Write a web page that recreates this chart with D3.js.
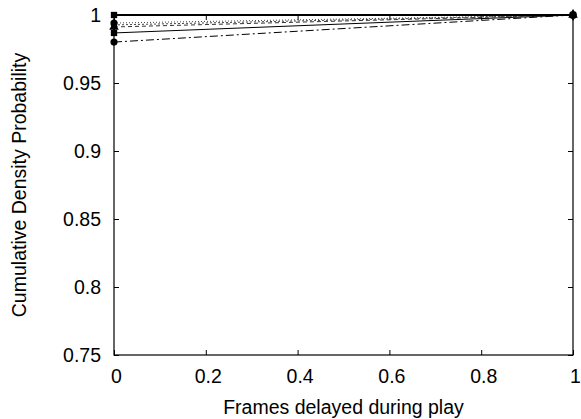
<!DOCTYPE html>
<html>
<head>
<meta charset="utf-8">
<script src="https://cdn.jsdelivr.net/npm/d3@7"></script>
<style>
  html, body { margin: 0; padding: 0; background: #fff; }
  svg { display: block; font-family: "Liberation Sans", Arial, sans-serif; }
</style>
</head>
<body>
<svg id="chart" width="581" height="419"></svg>
<script>
// Frames delayed during play (x) vs cumulative probability (y), one series per run
const xValues = [0, 1];
const seriesA = [1.0, 1.0];
const seriesB = [0.9941, 1.0];
const seriesC = [0.9927, 1.0];
const seriesD = [0.9912, 1.0];
const seriesE = [0.9868, 1.0];
const seriesF = [0.9801, 1.0];

const xTicks = [0, 0.2, 0.4, 0.6, 0.8, 1];
const yTicks = [0.75, 0.8, 0.85, 0.9, 0.95, 1];

const series = [
  { values: seriesF, dash: "8,3,2,3", width: 1, color: "#000", marker: "circle" },
  { values: seriesE, dash: null, width: 1, color: "#000", marker: "square" },
  { values: seriesD, dash: "4,3", width: 1, color: "#333", marker: "triangle" },
  { values: seriesC, dash: "2,2", width: 1, color: "#444", marker: "diamond" },
  { values: seriesB, dash: "1,2", width: 1, color: "#444", marker: "circle" },
  { values: seriesA, dash: null, width: 2, color: "#000", marker: "square" }
];

const svg = d3.select("#chart");
const plotL = 114, plotR = 573, plotT = 15, plotB = 355;
const fontSize = 19.5;

const x = d3.scaleLinear().domain([0, 1]).range([plotL, plotR]);
const y = d3.scaleLinear().domain([0.75, 1]).range([plotB, plotT]);

const tickLen = 5;
const fmt = d => String(d);

// bottom axis (labels) and top mirror ticks
const gx = svg.append("g").attr("transform", `translate(0,${plotB})`)
  .call(d3.axisBottom(x).tickValues(xTicks).tickFormat(fmt).tickSizeInner(-tickLen).tickSizeOuter(0).tickPadding(14));
svg.append("g").attr("transform", `translate(0,${plotT})`)
  .call(d3.axisTop(x).tickValues(xTicks).tickFormat("").tickSizeInner(-tickLen).tickSizeOuter(0));

// left axis (labels) and right mirror ticks
const gy = svg.append("g").attr("transform", `translate(${plotL},0)`)
  .call(d3.axisLeft(y).tickValues(yTicks).tickFormat(fmt).tickSizeInner(-tickLen).tickSizeOuter(0).tickPadding(13));
svg.append("g").attr("transform", `translate(${plotR},0)`)
  .call(d3.axisRight(y).tickValues(yTicks).tickFormat("").tickSizeInner(-tickLen).tickSizeOuter(0));

svg.selectAll(".domain").remove();
svg.selectAll(".tick line").attr("stroke", "#000");
svg.selectAll(".tick text").attr("font-size", fontSize).attr("fill", "#000");
gx.selectAll(".tick text").attr("dx", 2);

// frame
svg.append("rect")
  .attr("x", plotL).attr("y", plotT)
  .attr("width", plotR - plotL).attr("height", plotB - plotT)
  .attr("fill", "none").attr("stroke", "#000").attr("stroke-width", 1.2);

// series lines with point markers
const line = d3.line().x((d, i) => x(xValues[i])).y(d => y(d));
const symbolType = { circle: d3.symbolCircle, square: d3.symbolSquare, triangle: d3.symbolTriangle, diamond: d3.symbolDiamond };

series.forEach(s => {
  svg.append("path")
    .datum(s.values)
    .attr("d", line)
    .attr("fill", "none")
    .attr("stroke", s.color)
    .attr("stroke-width", s.width)
    .attr("stroke-dasharray", s.dash);
  svg.append("g").selectAll("path")
    .data(s.values)
    .join("path")
    .attr("transform", (d, i) => `translate(${x(xValues[i])},${y(d)})`)
    .attr("d", d3.symbol().type(symbolType[s.marker]).size(40))
    .attr("fill", "#000");
});

// axis titles
svg.append("text")
  .attr("x", (plotL + plotR) / 2).attr("y", 414)
  .attr("text-anchor", "middle").attr("font-size", fontSize)
  .text("Frames delayed during play");

svg.append("text")
  .attr("transform", `translate(26,${(plotT + plotB) / 2}) rotate(-90)`)
  .attr("text-anchor", "middle").attr("font-size", fontSize)
  .text("Cumulative Density Probability");
</script>
</body>
</html>
